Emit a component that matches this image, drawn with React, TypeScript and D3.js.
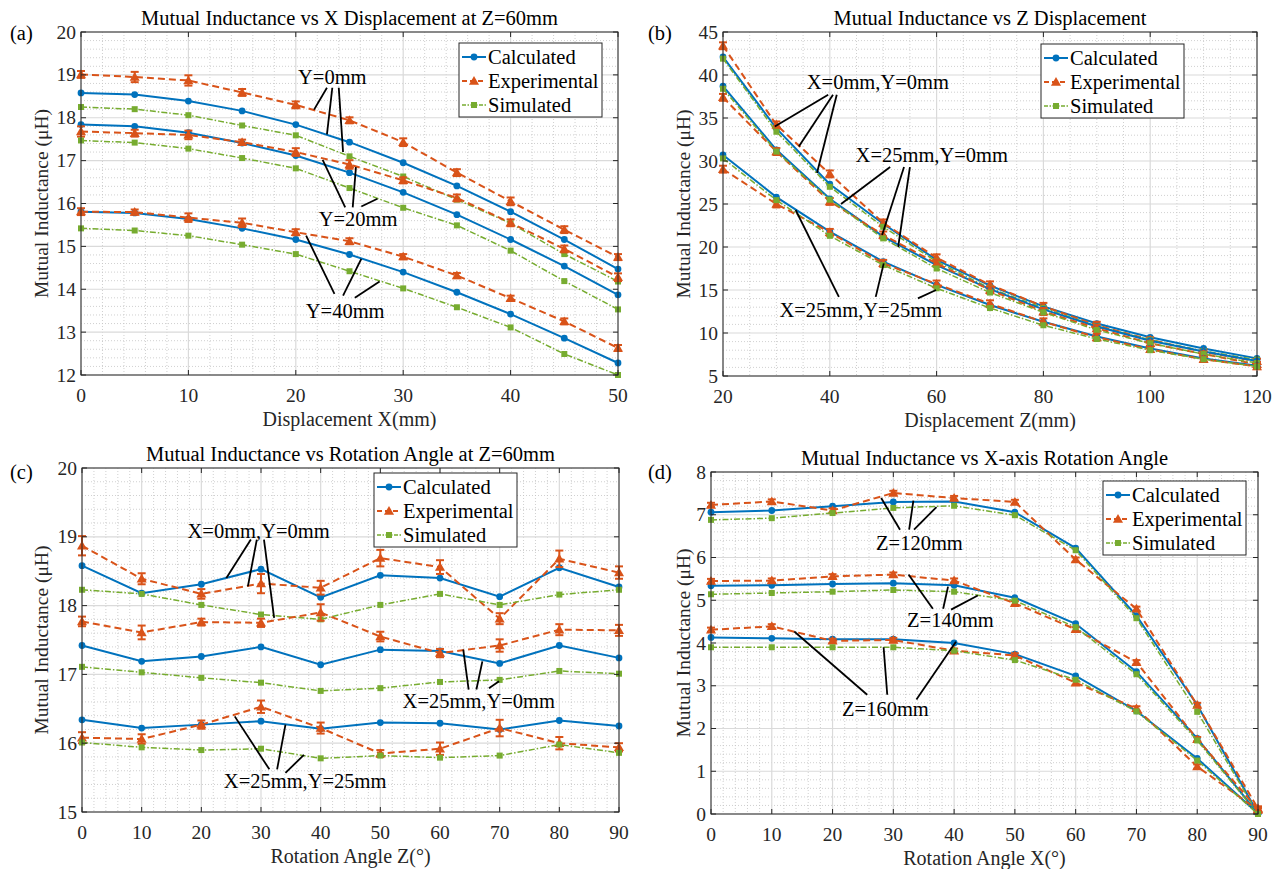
import * as d3 from 'd3'

const FONT = '"Liberation Serif", "Times New Roman", Times, serif'
const AXIS = '#262626'
const COLORS = { calc: '#0072BD', exp: '#D95319', sim: '#77AC30' }
const seriesNames = ['Calculated', 'Experimental', 'Simulated']

// (a) X displacement at Z=60mm
const xA = [0, 5, 10, 15, 20, 25, 30, 35, 40, 45, 50]
const calcA0 = [18.58, 18.54, 18.39, 18.16, 17.84, 17.43, 16.95, 16.41, 15.81, 15.16, 14.47]
const expA0 = [19.01, 18.95, 18.87, 18.59, 18.3, 17.94, 17.43, 16.72, 16.05, 15.39, 14.75]
const simA0 = [18.25, 18.2, 18.06, 17.82, 17.59, 17.1, 16.63, 16.09, 15.54, 14.82, 14.18]
const errA0 = [0.08, 0.12, 0.12, 0.08, 0.08, 0.07, 0.09, 0.08, 0.09, 0.08, 0.07]
const calcA20 = [17.84, 17.8, 17.65, 17.41, 17.12, 16.72, 16.26, 15.74, 15.16, 14.54, 13.87]
const expA20 = [17.68, 17.64, 17.6, 17.43, 17.2, 16.91, 16.54, 16.13, 15.55, 14.94, 14.28]
const simA20 = [17.47, 17.42, 17.28, 17.06, 16.82, 16.36, 15.9, 15.49, 14.9, 14.19, 13.53]
const errA20 = [0.12, 0.08, 0.1, 0.06, 0.09, 0.1, 0.07, 0.08, 0.08, 0.08, 0.09]
const calcA40 = [15.81, 15.78, 15.64, 15.42, 15.16, 14.81, 14.4, 13.93, 13.42, 12.86, 12.28]
const expA40 = [15.81, 15.8, 15.67, 15.55, 15.33, 15.12, 14.76, 14.32, 13.79, 13.25, 12.63]
const simA40 = [15.42, 15.37, 15.25, 15.04, 14.82, 14.42, 14.02, 13.58, 13.11, 12.49, 12.0]
const errA40 = [0.08, 0.06, 0.1, 0.1, 0.07, 0.07, 0.06, 0.06, 0.06, 0.07, 0.07]

// (b) Z displacement
const xB = [20, 30, 40, 50, 60, 70, 80, 90, 100, 110, 120]
const calcB00 = [42.1, 33.8, 27.3, 22.7, 18.5, 15.5, 13.1, 11.1, 9.5, 8.2, 7.05]
const expB00 = [43.4, 34.2, 28.5, 22.8, 18.75, 15.6, 13.1, 10.9, 9.2, 7.8, 6.7]
const simB00 = [41.9, 33.4, 27.0, 22.35, 18.3, 15.2, 12.9, 10.8, 9.2, 7.9, 6.9]
const calcB250 = [38.7, 31.3, 25.6, 21.2, 17.9, 15.1, 12.75, 10.75, 9.1, 7.85, 6.75]
const expB250 = [37.4, 31.1, 25.3, 21.4, 18.1, 15.0, 12.5, 10.55, 8.8, 7.55, 6.35]
const simB250 = [38.4, 31.1, 25.5, 21.0, 17.5, 14.7, 12.4, 10.35, 8.8, 7.55, 6.5]
const calcB2525 = [30.7, 25.8, 21.8, 18.3, 15.6, 13.25, 11.3, 9.6, 8.2, 7.05, 6.2]
const expB2525 = [29.05, 25.0, 21.7, 18.1, 15.7, 13.4, 11.3, 9.5, 8.1, 6.95, 6.1]
const simB2525 = [30.3, 25.45, 21.3, 17.9, 15.2, 12.9, 10.9, 9.3, 8.0, 6.95, 6.1]
const errB = [0.4, 0.4, 0.4, 0.4, 0.4, 0.4, 0.4, 0.4, 0.3, 0.3, 0.3]

// (c) rotation angle Z at Z=60mm
const xC = [0, 10, 20, 30, 40, 50, 60, 70, 80, 90]
const calcC00 = [18.58, 18.18, 18.31, 18.53, 18.12, 18.44, 18.4, 18.13, 18.55, 18.27]
const expC00 = [18.87, 18.39, 18.17, 18.32, 18.26, 18.69, 18.56, 17.81, 18.68, 18.48]
const simC00 = [18.23, 18.17, 18.01, 17.87, 17.8, 18.01, 18.17, 18.01, 18.16, 18.23]
const errC00 = [0.14, 0.08, 0.07, 0.14, 0.1, 0.12, 0.1, 0.08, 0.12, 0.09]
const calcC250 = [17.42, 17.19, 17.26, 17.4, 17.14, 17.36, 17.34, 17.16, 17.42, 17.24]
const expC250 = [17.77, 17.61, 17.76, 17.75, 17.9, 17.55, 17.31, 17.42, 17.65, 17.64]
const simC250 = [17.11, 17.03, 16.95, 16.88, 16.76, 16.8, 16.89, 16.92, 17.05, 17.01]
const errC250 = [0.07, 0.1, 0.05, 0.06, 0.12, 0.07, 0.06, 0.09, 0.08, 0.08]
const calcC2525 = [16.34, 16.22, 16.27, 16.32, 16.21, 16.3, 16.29, 16.2, 16.33, 16.25]
const expC2525 = [16.08, 16.06, 16.27, 16.53, 16.22, 15.85, 15.92, 16.22, 16.0, 15.94]
const simC2525 = [16.01, 15.94, 15.9, 15.92, 15.78, 15.82, 15.79, 15.82, 15.98, 15.86]
const errC2525 = [0.08, 0.07, 0.06, 0.09, 0.08, 0.05, 0.09, 0.12, 0.09, 0.06]

// (d) X-axis rotation angle
const xD = [0, 10, 20, 30, 40, 50, 60, 70, 80, 90]
const calcD120 = [7.06, 7.1, 7.2, 7.3, 7.31, 7.06, 6.22, 4.64, 2.55, 0.01]
const expD120 = [7.23, 7.31, 7.1, 7.51, 7.39, 7.3, 5.95, 4.8, 2.55, 0.13]
const simD120 = [6.88, 6.92, 7.04, 7.16, 7.21, 6.99, 6.17, 4.58, 2.39, 0.0]
const calcD140 = [5.34, 5.35, 5.38, 5.4, 5.35, 5.06, 4.45, 3.33, 1.77, 0.01]
const expD140 = [5.45, 5.46, 5.56, 5.6, 5.46, 4.93, 4.32, 3.55, 1.75, 0.11]
const simD140 = [5.14, 5.17, 5.2, 5.24, 5.2, 4.99, 4.37, 3.27, 1.72, 0.0]
const calcD160 = [4.13, 4.11, 4.09, 4.09, 4.0, 3.74, 3.23, 2.41, 1.3, 0.01]
const expD160 = [4.31, 4.39, 4.05, 4.07, 3.82, 3.71, 3.07, 2.47, 1.11, 0.09]
const simD160 = [3.9, 3.9, 3.9, 3.9, 3.82, 3.6, 3.14, 2.4, 1.25, 0.0]
const errD = [0.05, 0.05, 0.05, 0.05, 0.05, 0.05, 0.05, 0.05, 0.05, 0.05]

// annotations (data coordinates)
const notesA = [
  { text: 'Y=0mm', at: [23.4, 18.96], from: [[22.9, 18.7], [23.4, 18.7], [24.0, 18.7]], to: [[21.7, 18.19], [22.9, 17.61], [24.4, 17.2]] },
  { text: 'Y=20mm', at: [25.8, 15.64], from: [[24.6, 15.91], [25.3, 15.91], [26.1, 15.93]], to: [[22.5, 17.02], [25.6, 16.85], [27.6, 16.11]] },
  { text: 'Y=40mm', at: [24.6, 13.5], from: [[23.6, 13.89], [24.4, 13.85], [25.5, 13.8]], to: [[20.96, 15.25], [26.1, 14.71], [27.8, 14.18]] },
]
const notesB = [
  { text: 'X=0mm,Y=0mm', at: [49.0, 39.2], from: [[39.7, 37.7], [40.6, 37.7], [41.3, 37.7]], to: [[29.7, 34.0], [34.2, 31.7], [37.6, 28.6]] },
  { text: 'X=25mm,Y=0mm', at: [59.1, 30.7], from: [[51.3, 29.3], [53.9, 29.3], [55.0, 29.3]], to: [[42.1, 25.0], [49.8, 21.4], [52.8, 20.0]] },
  { text: 'X=25mm,Y=25mm', at: [45.8, 12.7], from: [[41.7, 14.2], [48.6, 14.2], [56.5, 14.03]], to: [[33.6, 24.3], [50.1, 18.1], [59.9, 15.0]] },
]
const notesC = [
  { text: 'X=0mm,Y=0mm', at: [29.6, 19.08], from: [[28.3, 18.96], [29.3, 18.96], [30.5, 18.96]], to: [[24.2, 18.4], [27.8, 18.28], [32.2, 17.82]] },
  { text: 'X=25mm,Y=0mm', at: [66.5, 16.61], from: [[64.8, 16.78], [66.1, 16.78], [68.2, 16.8]], to: [[63.9, 17.36], [67.1, 17.19], [69.9, 16.9]] },
  { text: 'X=25mm,Y=25mm', at: [37.4, 15.45], from: [[31.4, 15.62], [32.7, 15.62], [34.1, 15.57]], to: [[25.6, 16.39], [34.1, 16.27], [37.2, 15.83]] },
]
const notesD = [
  { text: 'Z=120mm', at: [34.3, 6.34], from: [[31.1, 6.65], [32.6, 6.65], [33.4, 6.65]], to: [[28.0, 7.39], [33.3, 7.33], [37.1, 7.18]] },
  { text: 'Z=140mm', at: [39.4, 4.54], from: [[36.5, 4.8], [38.2, 4.8], [39.5, 4.78]], to: [[32.5, 5.6], [39.0, 5.32], [43.9, 5.11]] },
  { text: 'Z=160mm', at: [28.7, 2.45], from: [[25.7, 2.79], [29.0, 2.79], [33.8, 2.68]], to: [[13.7, 4.27], [28.4, 3.9], [40.3, 4.03]] },
]

type Group = { calc: number[]; exp: number[]; sim: number[]; err: number[] }
type Note = { text: string; at: number[]; from: number[][]; to: number[][] }
type Cfg = {
  tag: string; title: string; xLabel: string
  box: number[]; legend: number[]; tagPos: number[]; yLabelX: number
  xs: number[]; xDomain: number[]; yDomain: number[]
  xStep: number; yStep: number; xMinor: number; yMinor: number
  groups: Group[]; notes: Note[]
}

const panels: Cfg[] = [
  {
    tag: '(a)', title: 'Mutual Inductance vs X Displacement at Z=60mm', xLabel: 'Displacement X(mm)',
    box: [81, 618, 32, 375], legend: [459, 43], tagPos: [10, 40], yLabelX: 48,
    xs: xA, xDomain: [0, 50], yDomain: [12, 20], xStep: 10, yStep: 1, xMinor: 2, yMinor: 0.2,
    groups: [
      { calc: calcA0, exp: expA0, sim: simA0, err: errA0 },
      { calc: calcA20, exp: expA20, sim: simA20, err: errA20 },
      { calc: calcA40, exp: expA40, sim: simA40, err: errA40 },
    ],
    notes: notesA,
  },
  {
    tag: '(b)', title: 'Mutual Inductance vs Z Displacement', xLabel: 'Displacement Z(mm)',
    box: [723, 1257, 32, 376], legend: [1041, 44], tagPos: [648, 40], yLabelX: 690,
    xs: xB, xDomain: [20, 120], yDomain: [5, 45], xStep: 20, yStep: 5, xMinor: 5, yMinor: 1,
    groups: [
      { calc: calcB00, exp: expB00, sim: simB00, err: errB },
      { calc: calcB250, exp: expB250, sim: simB250, err: errB },
      { calc: calcB2525, exp: expB2525, sim: simB2525, err: errB },
    ],
    notes: notesB,
  },
  {
    tag: '(c)', title: 'Mutual Inductance vs Rotation Angle at Z=60mm', xLabel: 'Rotation Angle Z(°)',
    box: [82, 619, 468, 812], legend: [374, 473], tagPos: [10, 479], yLabelX: 48,
    xs: xC, xDomain: [0, 90], yDomain: [15, 20], xStep: 10, yStep: 1, xMinor: 2, yMinor: 0.2,
    groups: [
      { calc: calcC00, exp: expC00, sim: simC00, err: errC00 },
      { calc: calcC250, exp: expC250, sim: simC250, err: errC250 },
      { calc: calcC2525, exp: expC2525, sim: simC2525, err: errC2525 },
    ],
    notes: notesC,
  },
  {
    tag: '(d)', title: 'Mutual Inductance vs X-axis Rotation Angle', xLabel: 'Rotation Angle X(°)',
    box: [711, 1258, 472, 814], legend: [1103, 481], tagPos: [648, 479], yLabelX: 690,
    xs: xD, xDomain: [0, 90], yDomain: [0, 8], xStep: 10, yStep: 1, xMinor: 2, yMinor: 0.2,
    groups: [
      { calc: calcD120, exp: expD120, sim: simD120, err: errD },
      { calc: calcD140, exp: expD140, sim: simD140, err: errD },
      { calc: calcD160, exp: expD160, sim: simD160, err: errD },
    ],
    notes: notesD,
  },
]

const triPath = d3.symbol().type(d3.symbolTriangle).size(44)() as string
const sqPath = d3.symbol().type(d3.symbolSquare).size(36)() as string

function Mark({ kind, cx, cy }: { kind: number; cx: number; cy: number }) {
  if (kind === 0) return <circle cx={cx} cy={cy} r={3.4} fill={COLORS.calc} />
  if (kind === 1) return <path d={triPath} transform={`translate(${cx},${cy + 0.8})`} fill={COLORS.exp} />
  return <path d={sqPath} transform={`translate(${cx},${cy})`} fill={COLORS.sim} />
}

const lineStyles = [
  { stroke: COLORS.calc, width: 2, dash: undefined },
  { stroke: COLORS.exp, width: 2, dash: '7,4' },
  { stroke: COLORS.sim, width: 1.5, dash: '6,2,1.5,2' },
]

function Panel({ p }: { p: Cfg }) {
  const [L, R, T, B] = p.box
  const x = d3.scaleLinear().domain(p.xDomain).range([L, R])
  const y = d3.scaleLinear().domain(p.yDomain).range([B, T])
  const eps = 1e-6
  const onStep = (v: number, base: number, step: number) => Math.abs((v - base) / step - Math.round((v - base) / step)) < 1e-6
  const xMajor = d3.range(p.xDomain[0], p.xDomain[1] + eps, p.xStep)
  const yMajor = d3.range(p.yDomain[0], p.yDomain[1] + eps, p.yStep)
  const xMin = d3.range(p.xDomain[0], p.xDomain[1] + eps, p.xMinor).filter(v => !onStep(v, p.xDomain[0], p.xStep))
  const yMin = d3.range(p.yDomain[0], p.yDomain[1] + eps, p.yMinor).filter(v => !onStep(v, p.yDomain[0], p.yStep))
  const line = d3.line<number>().x((_, i) => x(p.xs[i])).y(d => y(d))
  const fmt = d3.format('~g')
  const [lx, ly] = p.legend

  return (
    <g fontFamily={FONT}>
      {/* grid */}
      {xMin.map(v => <line key={'xm' + v} x1={x(v)} x2={x(v)} y1={T} y2={B} stroke="#c4c4c4" strokeWidth={0.8} strokeDasharray="1,2" />)}
      {yMin.map(v => <line key={'ym' + v} x1={L} x2={R} y1={y(v)} y2={y(v)} stroke="#c4c4c4" strokeWidth={0.8} strokeDasharray="1,2" />)}
      {xMajor.map(v => <line key={'xg' + v} x1={x(v)} x2={x(v)} y1={T} y2={B} stroke="#dadada" strokeWidth={1.2} />)}
      {yMajor.map(v => <line key={'yg' + v} x1={L} x2={R} y1={y(v)} y2={y(v)} stroke="#dadada" strokeWidth={1.2} />)}

      {/* series */}
      {p.groups.map((g, gi) => (
        <g key={gi}>
          {[g.calc, g.exp, g.sim].map((vals, si) => (
            <g key={si}>
              <path d={line(vals) as string} fill="none" stroke={lineStyles[si].stroke}
                strokeWidth={lineStyles[si].width} strokeDasharray={lineStyles[si].dash} />
              {si === 1 && vals.map((v, i) => {
                const cx = x(p.xs[i]), y1 = y(v + g.err[i]), y2 = y(v - g.err[i])
                return (
                  <g key={'e' + i} stroke={COLORS.exp} strokeWidth={2}>
                    <line x1={cx} x2={cx} y1={y1} y2={y2} />
                    <line x1={cx - 4} x2={cx + 4} y1={y1} y2={y1} />
                    <line x1={cx - 4} x2={cx + 4} y1={y2} y2={y2} />
                  </g>
                )
              })}
              {vals.map((v, i) => <Mark key={i} kind={si} cx={x(p.xs[i])} cy={y(v)} />)}
            </g>
          ))}
        </g>
      ))}

      {/* axes box and ticks */}
      <rect x={L} y={T} width={R - L} height={B - T} fill="none" stroke={AXIS} strokeWidth={1} />
      {xMajor.map(v => (
        <g key={'xt' + v}>
          <line x1={x(v)} x2={x(v)} y1={B} y2={B - 5} stroke={AXIS} />
          <line x1={x(v)} x2={x(v)} y1={T} y2={T + 5} stroke={AXIS} />
          <text x={x(v)} y={B + 27} textAnchor="middle" fontSize={19.5} fill={AXIS}>{fmt(v)}</text>
        </g>
      ))}
      {yMajor.map(v => (
        <g key={'yt' + v}>
          <line x1={L} x2={L + 5} y1={y(v)} y2={y(v)} stroke={AXIS} />
          <line x1={R} x2={R - 5} y1={y(v)} y2={y(v)} stroke={AXIS} />
          <text x={L - 5} y={y(v) + 6.5} textAnchor="end" fontSize={19.5} fill={AXIS}>{fmt(v)}</text>
        </g>
      ))}

      {/* annotations */}
      {p.notes.map((n, ni) => (
        <g key={'n' + ni}>
          {n.from.map((f, k) => (
            <line key={k} x1={x(f[0])} y1={y(f[1])} x2={x(n.to[k][0])} y2={y(n.to[k][1])} stroke="#000" strokeWidth={1.8} />
          ))}
          <text x={x(n.at[0])} y={y(n.at[1]) + 7} textAnchor="middle" fontSize={20.5} fill="#000">{n.text}</text>
        </g>
      ))}

      {/* legend */}
      <rect x={lx} y={ly} width={143} height={74} fill="#fff" stroke={AXIS} strokeWidth={1} />
      {seriesNames.map((name, i) => {
        const ry = ly + 14 + i * 24
        return (
          <g key={name}>
            <line x1={lx + 3} x2={lx + 27} y1={ry} y2={ry} stroke={lineStyles[i].stroke}
              strokeWidth={lineStyles[i].width} strokeDasharray={i === 1 ? '5,3' : i === 2 ? '4,1.5,1.5,1.5' : undefined} />
            <Mark kind={i} cx={lx + 15} cy={ry} />
            <text x={lx + 29} y={ry + 7} fontSize={20.5} fill="#000">{name}</text>
          </g>
        )
      })}

      {/* titles and labels */}
      <text x={(L + R) / 2} y={T - 7} textAnchor="middle" fontSize={20.5} fill="#000">{p.title}</text>
      <text x={(L + R) / 2} y={B + 51} textAnchor="middle" fontSize={20} fill={AXIS}>{p.xLabel}</text>
      <text transform={`translate(${p.yLabelX},${(T + B) / 2}) rotate(-90)`} textAnchor="middle" fontSize={19.5} fill={AXIS}>
        Mutual Inductance (μH)
      </text>
      <text x={p.tagPos[0]} y={p.tagPos[1]} fontSize={20.5} fill="#000">{p.tag}</text>
    </g>
  )
}

export default function App() {
  return (
    <svg width={1283} height={869} style={{ position: 'absolute', left: 0, top: 0, background: '#fff' }}>
      {panels.map(p => <Panel key={p.tag} p={p} />)}
    </svg>
  )
}
